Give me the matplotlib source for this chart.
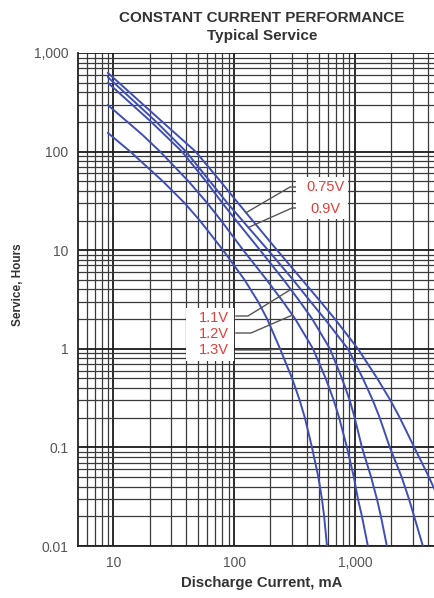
import matplotlib
matplotlib.use("Agg")
import matplotlib.pyplot as plt
import numpy as np
from matplotlib.ticker import FixedLocator, LogLocator, NullFormatter
from matplotlib.patches import Rectangle

# ---- data ----
labels = ["0.75V", "0.9V", "1.1V", "1.2V", "1.3V"]

current_075 = [9, 25.5, 48, 77, 108, 142, 227, 366, 520, 684, 1059, 1531, 1968, 2350,
               3100, 4100, 4580]
hours_075 = [630, 200, 100, 50, 30, 20, 10, 5, 3, 2, 1, 0.5, 0.3, 0.2, 0.1, 0.05, 0.037]

current_09 = [9, 22.7, 40, 63, 88, 117, 191, 308, 430, 564, 875, 1164, 1406, 1603,
              1945, 2438, 2800, 3090, 3650]
hours_09 = [570, 200, 100, 50, 30, 20, 10, 5, 3, 2, 1, 0.5, 0.3, 0.2, 0.1, 0.05, 0.03,
            0.02, 0.01]

current_11 = [9, 20.6, 37, 58.5, 80, 104, 164, 257, 351, 444, 621, 781, 906, 995,
              1143, 1361, 1520, 1641, 1837]
hours_11 = [500, 200, 100, 50, 30, 20, 10, 5, 3, 2, 1, 0.5, 0.3, 0.2, 0.1, 0.05, 0.03,
            0.02, 0.01]

current_12 = [9, 17.2, 24.4, 41.9, 60, 78, 119, 186, 254, 321, 450, 573, 668, 740,
              859, 979, 1059, 1143, 1280]
hours_12 = [297, 150, 100, 50, 30, 20, 10, 5, 3, 2, 1, 0.5, 0.3, 0.2, 0.1, 0.05, 0.03,
            0.02, 0.01]

current_13 = [9, 13.8, 25.7, 39, 52, 81, 122, 158, 188, 240, 302, 349, 385, 441, 498,
              533, 556, 587]
hours_13 = [155, 100, 50, 30, 20, 10, 5, 3, 2, 1, 0.5, 0.3, 0.2, 0.1, 0.05, 0.03,
            0.02, 0.01]

x_ticks = [10, 100, 1000]
x_tick_labels = ["10", "100", "1,000"]
y_ticks = [0.01, 0.1, 1, 10, 100, 1000]
y_tick_labels = ["0.01", "0.1", "1", "10", "100", "1,000"]

series = [
    (current_075, hours_075),
    (current_09, hours_09),
    (current_11, hours_11),
    (current_12, hours_12),
    (current_13, hours_13),
]

# ---- figure ----
W, H = 435, 598
fig = plt.figure(figsize=(W / 100, H / 100), dpi=100)
ax = fig.add_axes([78 / W, 1 - 546 / H, (W - 78) / W, (546 - 53) / H])

ax.set_xscale("log")
ax.set_yscale("log")
ax.set_xlim(5.1, 4600)
ax.set_ylim(0.01, 1000)

ax.xaxis.set_major_locator(FixedLocator(x_ticks))
ax.set_xticklabels(x_tick_labels)
ax.yaxis.set_major_locator(FixedLocator(y_ticks))
ax.set_yticklabels(y_tick_labels)
ax.xaxis.set_minor_locator(LogLocator(base=10, subs=np.arange(2, 10)))
ax.yaxis.set_minor_locator(LogLocator(base=10, subs=np.arange(2, 10)))
ax.xaxis.set_minor_formatter(NullFormatter())
ax.yaxis.set_minor_formatter(NullFormatter())

ax.grid(True, which="major", color="#1a1a1a", lw=1.3)
ax.grid(True, which="minor", color="#3a3a3a", lw=0.9)
ax.tick_params(which="both", length=0)
ax.tick_params(axis="x", pad=7, labelsize=10, labelcolor="#555555")
ax.tick_params(axis="y", pad=7, labelsize=10, labelcolor="#555555")
for lab in ax.get_xticklabels() + ax.get_yticklabels():
    lab.set_family("Liberation Sans")

for s in ["top", "right"]:
    ax.spines[s].set_visible(False)
for s in ["left", "bottom"]:
    ax.spines[s].set_color("#222222")
    ax.spines[s].set_linewidth(1.3)

blue = "#3f4fb5"
for cur, hrs in series:
    ax.plot(cur, hrs, color=blue, lw=1.4, solid_capstyle="round",
            solid_joinstyle="round", zorder=5)

# ---- labels with leaders ----
red = "#e0403c"
tf = dict(family="Liberation Sans", fontsize=10.5, color=red, zorder=7)

def px2data(px, py):
    return ax.transData.inverted().transform(
        fig.transFigure.transform((px / W, 1 - py / H)))

# white boxes behind labels
for (x0, y0, x1, y1) in [(296, 177, 348, 219), (186, 308, 234, 361)]:
    fig.patches.append(Rectangle((x0 / W, 1 - y1 / H), (x1 - x0) / W, (y1 - y0) / H,
                                 transform=fig.transFigure, facecolor="white",
                                 edgecolor="none", zorder=6))

def curve_x_at(cur, hrs, hval):
    lc = np.log10(cur); lh = np.log10(hrs)
    return 10 ** np.interp(-np.log10(hval), -lh, lc)

label_pos = {"0.75V": (345, 187), "0.9V": (341, 209),
             "1.1V": (229, 318), "1.2V": (229, 334), "1.3V": (229, 350)}
leader = {  # (start px, bend px, target hour on curve)
    "0.75V": ((298, 187), (290, 187), 24),
    "0.9V": ((298, 208), (292, 208), 17),
    "1.1V": ((236, 316), (248, 316), 4.0),
    "1.2V": ((236, 333), (251, 333), 2.2),
    "1.3V": ((236, 350), (268, 350), 1.0),
}
for name, (cur, hrs) in zip(labels, series):
    px, py = label_pos[name]
    fig.text(px / W, 1 - py / H, name, ha="right", va="center", **tf)
    (sx, sy), (bx, by), th = leader[name]
    tx = curve_x_at(cur, hrs, th)
    p0 = px2data(sx, sy); p1 = px2data(bx, by)
    ax.plot([p0[0], p1[0], tx], [p0[1], p1[1], th], color="#555555", lw=1.0,
            zorder=8, clip_on=False)

# ---- titles ----
tcol = "#333333"
fig.text(262 / W, 1 - 18 / H, "CONSTANT CURRENT PERFORMANCE", ha="center", va="center",
         family="Liberation Sans", fontweight="bold", fontsize=11, color=tcol)
fig.text(262 / W, 1 - 36 / H, "Typical Service", ha="center", va="center",
         family="Liberation Sans", fontweight="bold", fontsize=11, color=tcol)
fig.text(262 / W, 1 - 583 / H, "Discharge Current, mA", ha="center", va="center",
         family="Liberation Sans", fontweight="bold", fontsize=10.7, color=tcol)
fig.text(18 / W, 1 - 285 / H, "Service, Hours", ha="center", va="center", rotation=90,
         family="Liberation Sans", fontweight="bold", fontsize=8.5, color=tcol)

fig.savefig("out.png", dpi=100)
